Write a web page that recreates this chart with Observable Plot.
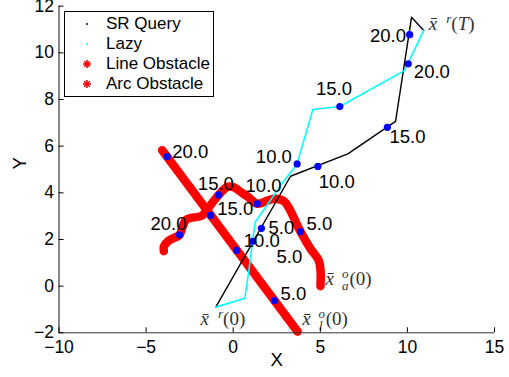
<!DOCTYPE html>
<html><head><meta charset="utf-8">
<script src="https://cdn.jsdelivr.net/npm/d3@7"></script>
<script src="https://cdn.jsdelivr.net/npm/@observablehq/plot@0.6"></script>
<style>
body{margin:0;background:#fff;}
#wrap{position:relative;width:509px;height:377px;}
#legend{position:absolute;left:64px;top:11px;width:148px;height:84px;border:1px solid #000;background:#fff;font-family:"Liberation Sans",Arial,sans-serif;font-size:17px;color:#000;}
.row{position:absolute;left:0;height:20px;line-height:20px;}
.row span{position:absolute;left:41px;white-space:nowrap;}
.row svg{position:absolute;left:15px;top:4px;}
</style></head>
<body><div id="wrap"></div>
<script>
// ---- data ----
const xTicks = [-10, -5, 0, 5, 10, 15];
const yTicks = [-2, 0, 2, 4, 6, 8, 10, 12];

// SR Query path (black)
const srX = [-1.0, 3.29, 6.58, 9.32, 10.24, 10.94];
const srY = [-0.9, 4.71, 5.67, 7.06, 11.53, 10.96];
const srDotX = [1.62, 4.86, 8.85, 10.13];
const srDotY = [2.48, 5.13, 6.81, 10.78];
const srLabX = [2.03, 4.91, 8.97, 7.85];
const srLabY = [2.47, 4.45, 6.38, 10.74];

// Lazy path (cyan)
const lzX = [-1.0, 0.67, 0.9, 1.09, 1.26, 2.9, 3.67, 4.57, 6.12, 9.83, 10.94];
const lzY = [-0.9, -0.52, 0.67, 1.8, 2.74, 4.5, 5.24, 7.57, 7.70, 9.24, 10.96];
const lzDotX = [1.12, 3.67, 6.12, 10.05];
const lzDotY = [1.92, 5.24, 7.70, 9.53];
const lzLabX = [2.49, 1.3, 4.75, 10.37];
const lzLabY = [1.24, 5.53, 8.46, 9.17];

// Line obstacle (red)
const lineX = [-4.08, 3.7];
const lineY = [5.83, -1.95];
const lineDotX = [2.37, 0.19, -1.30, -3.79];
const lineDotY = [-0.62, 1.53, 3.03, 5.55];
const lineLabX = [2.72, 0.61, -0.92, -3.50];
const lineLabY = [-0.33, 1.95, 3.31, 5.74];

// Arc obstacle (red)
const arcX = [5.01, 5.01, 4.9, 4.44, 3.86, 3.5, 3.2, 2.9, 2.4, 2.0, 1.38, 0.9, 0.5, 0.0, -0.35, -0.83, -1.4, -1.78, -2.7, -2.95, -3.08, -3.7, -3.98, -3.98];
const arcY = [0.0, 0.7, 1.12, 1.6, 2.34, 2.9, 3.35, 3.65, 3.75, 3.68, 3.53, 3.8, 4.0, 4.25, 4.25, 3.91, 3.38, 3.03, 2.85, 2.45, 2.2, 1.95, 1.7, 1.5];
const arcDotX = [3.86, 1.38, -0.83, -3.08];
const arcDotY = [2.34, 3.53, 3.91, 2.20];
const arcLabX = [4.21, 0.71, -2.03, -4.75];
const arcLabY = [2.67, 4.31, 4.38, 2.67];

const dotLabels = ["5.0", "10.0", "15.0", "20.0"];

// annotations
const annKeys = ["r0", "ol0", "oa0", "rT"];
const annX = [-1.87, 3.96, 5.30, 11.23];
const annY = [-1.39, -1.39, 0.33, 11.26];

const legendLabels = ["SR Query", "Lazy", "Line Obstacle", "Arc Obstacle"];
const legendColors = ["#000000", "#00ffff", "#ff0000", "#ff0000"];
const legendMarkers = ["dot", "dot", "star", "star"];

// ---- build tables ----
const pts = (xs, ys) => xs.map((x, i) => ({x, y: ys[i]}));
const lab = (xs, ys) => xs.map((x, i) => ({x, y: ys[i], t: dotLabels[i]}));
const allDots = [...pts(srDotX, srDotY), ...pts(lzDotX, lzDotY), ...pts(lineDotX, lineDotY), ...pts(arcDotX, arcDotY)];
const allLabs = [...lab(srLabX, srLabY), ...lab(lzLabX, lzLabY), ...lab(lineLabX, lineLabY), ...lab(arcLabX, arcLabY)];
const anns = annKeys.map((k, i) => ({x: annX[i], y: annY[i], k: "§" + k}));

const fmt = d => d < 0 ? "\u2212" + Math.abs(d) : String(d);

const chart = Plot.plot({
  width: 509, height: 377,
  marginLeft: 58.5, marginRight: 15, marginTop: 5.7, marginBottom: 44.7,
  style: {fontFamily: "'Liberation Sans', Arial, sans-serif", fontSize: "17px", background: "#fff", overflow: "visible"},
  x: {domain: [-10, 15]},
  y: {domain: [-2, 12]},
  marks: [
    Plot.line(pts(lineX, lineY), {x: "x", y: "y", stroke: "#ff0000", strokeWidth: 8.5, strokeLinecap: "round"}),
    Plot.line(pts(arcX, arcY), {x: "x", y: "y", stroke: "#ff0000", strokeWidth: 8.5, strokeLinecap: "round", strokeLinejoin: "round", curve: "catmull-rom"}),
    Plot.line(pts(srX, srY), {x: "x", y: "y", stroke: "#000", strokeWidth: 1.4}),
    Plot.line(pts(lzX, lzY), {x: "x", y: "y", stroke: "#00ffff", strokeWidth: 1.6}),
    Plot.dot(allDots, {x: "x", y: "y", r: 3.6, fill: "#0000ff", stroke: "none"}),
    Plot.text(allLabs, {x: "x", y: "y", text: "t", textAnchor: "start", fontSize: 18.5, fill: "#000"}),
    Plot.text(anns, {x: "x", y: "y", text: "k", textAnchor: "start", fontSize: 19, fontFamily: "'Liberation Serif', serif", fill: "#333"}),
    Plot.ruleY([-2], {stroke: "#333", strokeWidth: 1}),
    Plot.ruleX([-10], {stroke: "#111", strokeWidth: 1}),
    Plot.axisX({ticks: xTicks, tickSize: -5, tickPadding: 13, tickFormat: fmt, label: null, fontSize: 17.5}),
    Plot.axisY({ticks: yTicks, tickSize: -5, tickPadding: 10, tickFormat: fmt, label: null, fontSize: 17.5}),
    Plot.text(["X"], {text: d => d, frameAnchor: "bottom", dy: 33, fontSize: 18.5}),
    Plot.text(["Y"], {text: d => d, frameAnchor: "left", dx: -38.5, rotate: -90, fontSize: 18.5})
  ]
});

// rich math-style annotations
const NS = "http://www.w3.org/2000/svg";
const rich = {
  "§r0": [{t: "x\u0304", it: 1}, {t: "r", dx: 9, dy: -7, size: 13, it: 1}, {t: "(0)", dy: 7}],
  "§rT": [{t: "x\u0304", it: 1}, {t: "r", dx: 9, dy: -7, size: 13, it: 1}, {t: "(", dy: 7}, {t: "T", it: 1}, {t: ")"}],
  "§ol0": [{t: "x\u0304", it: 1}, {t: "o", dx: 8, dy: -7, size: 13, it: 1}, {t: "l", dx: -6, dy: 12, size: 13, it: 1}, {t: "(0)", dx: 3, dy: -5}],
  "§oa0": [{t: "x\u0304", it: 1}, {t: "o", dx: 8, dy: -7, size: 13, it: 1}, {t: "a", dx: -6.5, dy: 12, size: 13, it: 1}, {t: "(0)", dx: 1, dy: -5}]
};
d3.select(chart).selectAll("text").each(function() {
  const parts = rich[this.textContent];
  if (!parts) return;
  this.textContent = "";
  for (const p of parts) {
    const s = document.createElementNS(NS, "tspan");
    s.textContent = p.t;
    if (p.dx) s.setAttribute("dx", p.dx);
    if (p.dy) s.setAttribute("dy", p.dy);
    if (p.size) s.setAttribute("font-size", p.size);
    if (p.it) s.setAttribute("font-style", "italic");
    this.appendChild(s);
  }
});

const wrap = document.getElementById("wrap");
wrap.appendChild(chart);

// legend
const leg = document.createElement("div");
leg.id = "legend";
legendLabels.forEach((name, i) => {
  const row = document.createElement("div");
  row.className = "row";
  row.style.top = (2 + 20 * i) + "px";
  row.style.width = "100%";
  const c = legendColors[i];
  const mk = legendMarkers[i] === "dot"
    ? `<svg width="14" height="12"><circle cx="7" cy="6" r="1" fill="${c}"/></svg>`
    : `<svg width="14" height="12"><g stroke="${c}" stroke-width="1.6"><line x1="3" y1="6" x2="11" y2="6"/><line x1="7" y1="2" x2="7" y2="10"/><line x1="4.2" y1="3.2" x2="9.8" y2="8.8"/><line x1="4.2" y1="8.8" x2="9.8" y2="3.2"/></g></svg>`;
  row.innerHTML = mk + `<span>${name}</span>`;
  leg.appendChild(row);
});
wrap.appendChild(leg);
</script>
</body></html>
